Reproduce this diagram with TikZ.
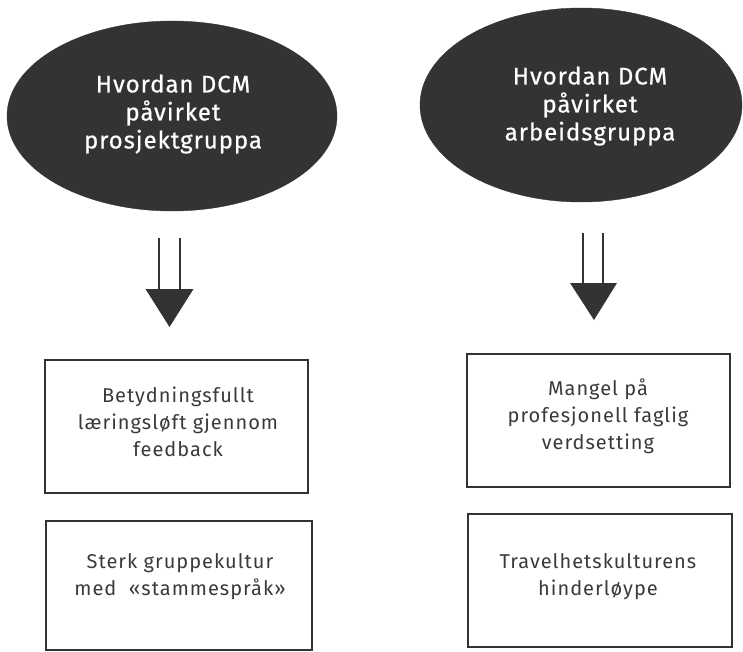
\documentclass[tikz,border=0pt]{standalone}
\usepackage{fontspec}
\setmainfont{Fira Sans}
\usetikzlibrary{shapes.geometric}
\definecolor{dk}{HTML}{333333}
\definecolor{ink}{HTML}{3A3A3A}
\begin{document}
\begin{tikzpicture}[x=1pt,y=-1pt,
  blob/.style={ellipse, fill=dk, draw=dk, inner sep=0pt},
  blobtext/.style={text=white, align=center, font=\fontsize{24}{28}\selectfont\addfontfeatures{LetterSpace=4,FakeBold=0.6}},
  card/.style={draw=dk, line width=1.3pt, inner sep=0pt},
  cardtext/.style={text=ink, align=center, font=\fontsize{20}{27}\selectfont\addfontfeatures{LetterSpace=5}},
  shaft/.style={draw=dk, line width=1.6pt},
  head/.style={fill=dk}]
\useasboundingbox (0,0) rectangle (743,652);
% ellipses
\node[blob, minimum width=330pt, minimum height=190pt] (e1) at (172,116) {};
\node[blob, minimum width=322pt, minimum height=194pt] (e2) at (581,105) {};
\node[blobtext] (e1t) at (173,114) {Hvordan DCM\\påvirket\\prosjektgruppa};
\node[blobtext] (e2t) at (590,106) {Hvordan DCM\\påvirket\\arbeidsgruppa};
% boxes
\node[card, minimum width=263pt, minimum height=133pt] (b1) at (176.5,426.5) {};
\node[card, minimum width=266pt, minimum height=129pt] (b2) at (179,585.5) {};
\node[card, minimum width=263pt, minimum height=133pt] (b3) at (598.5,420.5) {};
\node[card, minimum width=264pt, minimum height=133pt] (b4) at (600,580.5) {};
\node[cardtext] (b1t) at (178,422) {Betydningsfullt\\læringsløft gjennom\\feedback};
\node[cardtext] (b2t) at (180,577) {Sterk gruppekultur\\med\ \ «stammespråk»};
\node[cardtext] (b3t) at (598,416) {Mangel på\\profesjonell faglig\\verdsetting};
\node[cardtext] (b4t) at (598,577) {Travelhetskulturens\\hinderløype};
% arrows
\coordinate (a1s) at (169.5,238);
\coordinate (a1h) at (169.5,289);
\coordinate (a1t) at (169.5,327);
\draw[shaft] ([xshift=-10.5pt]a1s) -- ([xshift=-10.5pt]a1h);
\draw[shaft] ([xshift=10.5pt]a1s) -- ([xshift=10.5pt]a1h);
\fill[head] ([xshift=-24pt]a1h) -- ([xshift=24pt]a1h) -- (a1t) -- cycle;
\coordinate (a2s) at (593,233);
\coordinate (a2h) at (593,283);
\coordinate (a2t) at (594,320);
\draw[shaft] ([xshift=-10pt]a2s) -- ([xshift=-10pt]a2h);
\draw[shaft] ([xshift=10pt]a2s) -- ([xshift=10pt]a2h);
\fill[head] ([xshift=-23pt]a2h) -- ([xshift=24pt]a2h) -- (a2t) -- cycle;
\end{tikzpicture}
\end{document}
